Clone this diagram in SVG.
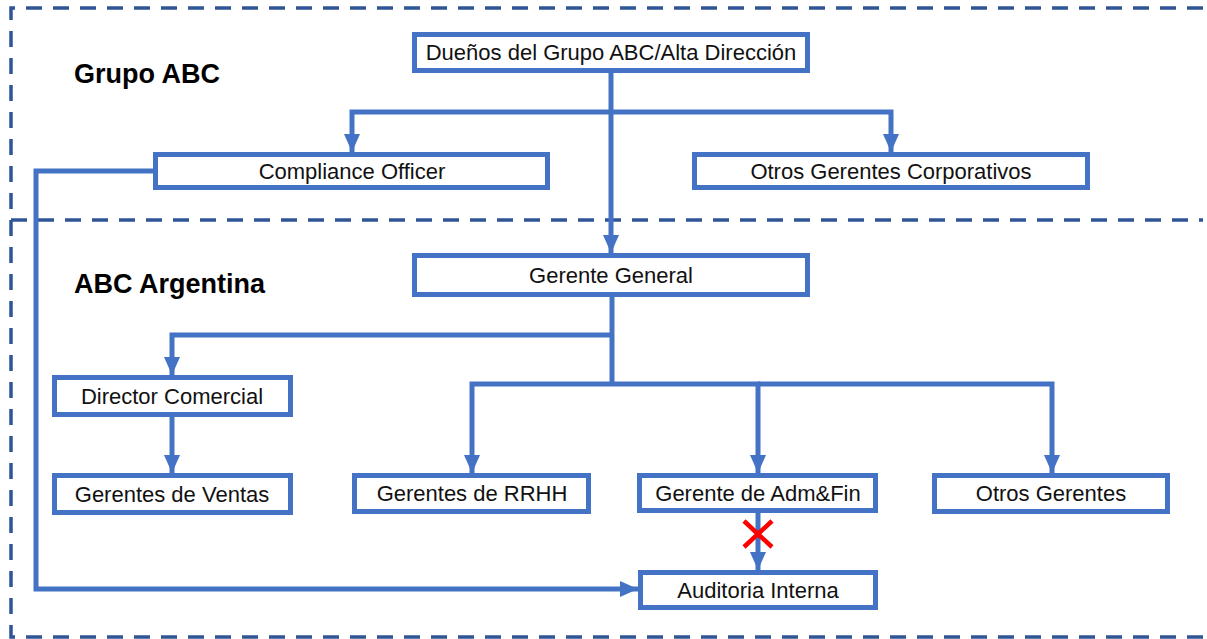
<svg xmlns="http://www.w3.org/2000/svg" width="1207" height="639" viewBox="0 0 1207 639">
<style>
.frame{fill:none;stroke:#2F5597;stroke-width:3.5;stroke-dasharray:16 11}
.box{fill:#fff;stroke:#4472C4;stroke-width:5}
.lbl{font-family:"Liberation Sans",Arial,sans-serif;font-size:22px;fill:#111;text-anchor:middle}
.title{font-family:"Liberation Sans",Arial,sans-serif;font-size:27px;font-weight:bold;fill:#000}
.conn{fill:none;stroke:#4472C4;stroke-width:5}
.arr{fill:none;stroke:#4472C4;stroke-width:5;marker-end:url(#ah)}
</style>
<defs>
<marker id="ah" markerUnits="userSpaceOnUse" markerWidth="18" markerHeight="16" viewBox="0 0 18 16" refX="18" refY="8" orient="auto">
<path d="M0,0 L18,8 L0,16 Z" fill="#4472C4"/>
</marker>
</defs>
<rect width="1207" height="639" fill="#fff"/>
<g id="frames">
<path class="frame" d="M1203,8 H11 V637 H1203"/>
<path class="frame" d="M11,220 H1203"/>
</g>
<text class="title" x="74" y="83">Grupo ABC</text>
<text class="title" x="74" y="293">ABC Argentina</text>
<g id="connectors">
<path class="conn" d="M611,73 V112"/>
<path class="arr" d="M611,112 V253"/>
<path class="arr" d="M611,112 H352 V152"/>
<path class="arr" d="M611,112 H891 V152"/>
<path class="conn" d="M612,297 V384"/>
<path class="arr" d="M612,335 H172 V375"/>
<path class="arr" d="M172,417 V473"/>
<path class="arr" d="M612,384 H472 V473"/>
<path class="arr" d="M612,384 H758 V473"/>
<path class="arr" d="M758,384 H1052 V473"/>
<path class="arr" d="M758,513 V570"/>
<path class="arr" d="M153,171 H36 V589 H638"/>
</g>
<g id="n-duenos"><rect class="box" x="414.5" y="34.5" width="393" height="36"/><text class="lbl" x="611" y="60">Dueños del Grupo ABC/Alta Dirección</text></g>
<g id="n-compliance"><rect class="box" x="155.5" y="154.5" width="392" height="33"/><text class="lbl" x="352" y="179">Compliance Officer</text></g>
<g id="n-otros-corp"><rect class="box" x="694.5" y="154.5" width="393" height="33"/><text class="lbl" x="891" y="179">Otros Gerentes Corporativos</text></g>
<g id="n-gg"><rect class="box" x="414.5" y="255.5" width="393" height="39"/><text class="lbl" x="611" y="283">Gerente General</text></g>
<g id="n-director"><rect class="box" x="54.5" y="377.5" width="236" height="37"/><text class="lbl" x="172" y="404">Director Comercial</text></g>
<g id="n-ventas"><rect class="box" x="54.5" y="475.5" width="236" height="37"/><text class="lbl" x="172" y="502">Gerentes de Ventas</text></g>
<g id="n-rrhh"><rect class="box" x="354.5" y="475.5" width="234" height="36"/><text class="lbl" x="472" y="501">Gerentes de RRHH</text></g>
<g id="n-admfin"><rect class="box" x="639.5" y="475.5" width="236" height="35"/><text class="lbl" x="758" y="501">Gerente de Adm&amp;Fin</text></g>
<g id="n-otros"><rect class="box" x="934.5" y="475.5" width="233" height="36"/><text class="lbl" x="1051" y="501">Otros Gerentes</text></g>
<g id="n-auditoria"><rect class="box" x="640.5" y="572.5" width="235" height="35"/><text class="lbl" x="758" y="598">Auditoria Interna</text></g>
<g id="cross"><path d="M744,521 L772,547 M772,521 L744,547" stroke="#FF0000" stroke-width="4.5" fill="none"/></g>
</svg>
